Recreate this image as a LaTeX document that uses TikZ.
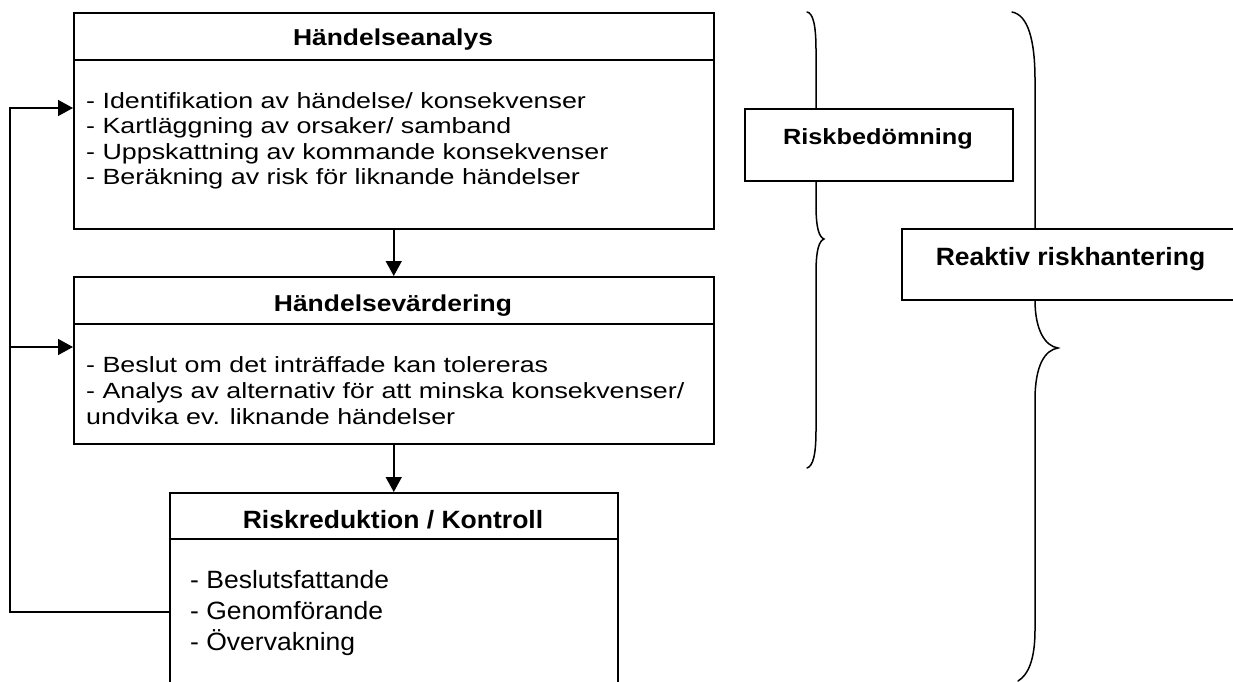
\documentclass[tikz,border=0pt]{standalone}
\usepackage{fontspec}
\setmainfont{Liberation Sans}
\newfontfamily\fbody{Liberation Sans}[FakeStretch=1.22]
\newfontfamily\fhead{Liberation Sans}[FakeStretch=1.15]
\newfontfamily\fwide{Liberation Sans}[FakeStretch=1.06]
\usetikzlibrary{arrows.meta}

\begin{document}
\begin{tikzpicture}[x=1pt,y=-1pt,
  box/.style={draw, line width=1.5pt, fill=white, inner sep=0pt, anchor=north west},
  rule/.style={line width=1.5pt},
  arr/.style={line width=1.5pt, -{Triangle[length=15pt,width=16pt]}},
  brace/.style={line width=1.5pt, line cap=round},
  txt/.style={inner sep=0pt, anchor=base},
  list/.style={inner sep=0pt, anchor=base west}
]
\useasboundingbox (0,0) rectangle (1233,681);
\clip (0,0) rectangle (1233,681);

% curly braces grouping the process steps
\draw[brace] (807,12) .. controls (813,13) and (816,25) .. (816,50)
  -- (816,205) .. controls (816,228) and (819,237) .. (824,239)
  .. controls (819,241) and (816,250) .. (816,273)
  -- (816,430) .. controls (816,455) and (813,466) .. (807,468);
\draw[brace] (1012,12) .. controls (1028,15) and (1035,40) .. (1035,80)
  -- (1035,300) .. controls (1035,330) and (1045,346) .. (1058,348)
  .. controls (1045,350) and (1035,365) .. (1035,400)
  -- (1035,630) .. controls (1035,660) and (1028,675) .. (1018,681);

% process boxes
\node[box, minimum width=640pt, minimum height=216pt] (ana) at (73,12) {};
\node[box, minimum width=640pt, minimum height=167pt] (var) at (73,276) {};
\node[box, minimum width=448pt, minimum height=220pt] (red) at (169,492) {};

% label boxes on the braces
\node[box, minimum width=268pt, minimum height=72pt] (rb) at (744,108) {};
\node[box, minimum width=360pt, minimum height=71pt] (rh) at (901,228) {};

% header separators
\coordinate (h1) at (0,60);
\coordinate (h2) at (0,324);
\coordinate (h3) at (0,539);
\draw[rule] (ana.west |- h1) -- (ana.east |- h1);
\draw[rule] (var.west |- h2) -- (var.east |- h2);
\draw[rule] (red.west |- h3) -- (red.east |- h3);

% flow arrows
\draw[arr] (ana.south) -- (var.north);
\draw[arr] (var.south) -- (red.north);

% feedback loop
\coordinate (fb) at (10,612);
\coordinate (fa) at (10,108);
\coordinate (fv) at (10,347);
\draw[arr] (red.west |- fb) -- (fb) -- (fa) -- (ana.west |- fa);
\draw[arr] (fv) -- (var.west |- fv);

% titles
\node[txt] (t1) at (393,45) {\fhead\fontsize{23}{27}\selectfont\bfseries Händelseanalys};
\node[txt] (t2) at (393,311.7) {\fhead\fontsize{23}{27}\selectfont\bfseries Händelsevärdering};
\node[txt] (t3) at (393,528) {\fwide\fontsize{25}{30}\selectfont\bfseries Riskreduktion / Kontroll};
\node[txt] (t4) at (878,144) {\fhead\fontsize{22}{26}\selectfont\bfseries Riskbedömning};
\node[txt] (t5) at (1070.5,265) {\fwide\fontsize{25}{30}\selectfont\bfseries Reaktiv riskhantering};

% item lists
\node[list] (l1) at (86,108) {\fbody\fontsize{22}{25.5}\selectfont
  \begin{tabular}[t]{@{}l@{}}
  - Identifikation av händelse/ konsekvenser\\
  - Kartläggning av orsaker/ samband\\
  - Uppskattning av kommande konsekvenser\\
  - Beräkning av risk för liknande händelser
  \end{tabular}};
\node[list] (l2) at (86,372.7) {\fbody\fontsize{22}{26}\selectfont
  \begin{tabular}[t]{@{}l@{}}
  - Beslut om det inträffade kan tolereras\\
  - Analys av alternativ för att minska konsekvenser/\\
  undvika ev. liknande händelser
  \end{tabular}};
\node[list] (l3) at (190,588) {\fwide\fontsize{25}{31}\selectfont
  \begin{tabular}[t]{@{}l@{}}
  - Beslutsfattande\\
  - Genomförande\\
  - Övervakning
  \end{tabular}};
\end{tikzpicture}
\end{document}
